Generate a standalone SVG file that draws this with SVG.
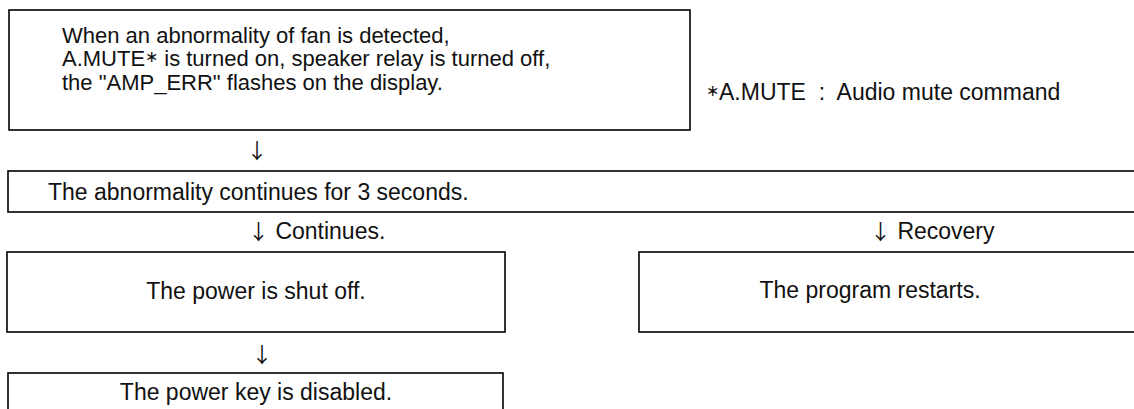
<svg xmlns="http://www.w3.org/2000/svg" width="1134" height="409" viewBox="0 0 1134 409">
<style>
.box{fill:#fff;stroke:#000;stroke-width:1.6}
.t{font-family:"Liberation Sans",Arial,Helvetica,sans-serif;font-size:23px;fill:#111}
.s{font-size:22px}
.c{text-anchor:middle}
.ast{font-size:16px;baseline-shift:4px}
.arr{font-family:"Noto Sans CJK JP","DejaVu Sans",sans-serif;font-size:21px;fill:#111}
</style>
<rect width="1134" height="409" fill="#fff"/>
<g id="node-fan-abnormal">
<rect class="box" x="9" y="10" width="681" height="120"/>
<text class="t s" x="62" y="43">When an abnormality of fan is detected,</text>
<text class="t s" x="62" y="66">A.MUTE<tspan class="ast">∗</tspan> is turned on, speaker relay is turned off,</text>
<text class="t s" x="62" y="90">the "AMP_ERR" flashes on the display.</text>
</g>
<g id="note">
<text class="t" x="706" y="100" xml:space="preserve"><tspan class="ast">∗</tspan>A.MUTE  :  Audio mute command</text>
</g>
<g id="node-continues-3s">
<rect class="box" x="8" y="171" width="1140" height="41"/>
<text class="t" x="48" y="200">The abnormality continues for 3 seconds.</text>
</g>
<g id="node-power-off">
<rect class="box" x="7" y="252" width="498" height="80"/>
<text class="t c" x="256" y="299">The power is shut off.</text>
</g>
<g id="node-key-disabled">
<rect class="box" x="8" y="373" width="495" height="60"/>
<text class="t c" x="256" y="400">The power key is disabled.</text>
</g>
<g id="node-restart">
<rect class="box" x="639" y="252" width="520" height="80"/>
<text class="t c" x="870" y="298">The program restarts.</text>
</g>
<g id="connectors">
<text class="arr c" x="257" y="158">↓</text>
<text class="t" x="248" y="239"><tspan class="arr">↓</tspan> Continues.</text>
<text class="t" x="870" y="239"><tspan class="arr">↓</tspan> Recovery</text>
<text class="arr c" x="262" y="362">↓</text>
</g>
</svg>
